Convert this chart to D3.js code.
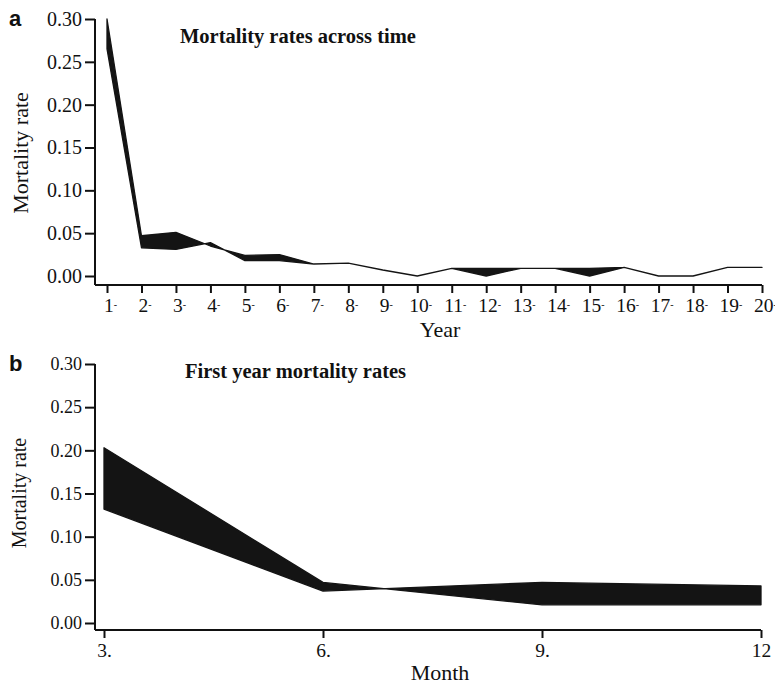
<!DOCTYPE html>
<html>
<head>
<meta charset="utf-8">
<script src="https://cdn.jsdelivr.net/npm/d3@7"></script>
<style>
body { margin: 0; background: #fff; }
svg { display: block; }
text { font-family: "Liberation Serif", "Times New Roman", serif; fill: #111; }
.axis path, .axis line { stroke: #111; stroke-width: 2; }
.panel { font-family: "Liberation Sans", Arial, sans-serif; font-weight: bold; }
</style>
</head>
<body>
<script>
// panel a: yearly mortality, two bounds of the ribbon
var years = d3.range(1, 21)
var yearA = [0.265, 0.033, 0.031, 0.039, 0.018, 0.018, 0.014, 0.015, 0.007, 0.000,
             0.009, 0.000, 0.009, 0.009, 0.000, 0.010, 0.000, 0.000, 0.010, 0.010]
var yearB = [0.300, 0.047, 0.051, 0.035, 0.024, 0.025, 0.014, 0.015, 0.007, 0.000,
             0.009, 0.009, 0.009, 0.009, 0.009, 0.010, 0.000, 0.000, 0.010, 0.010]
// panel b: first year, by month
var months = [3, 6, 9, 12]
var monthA = [0.203, 0.047, 0.021, 0.021]
var monthB = [0.132, 0.037, 0.047, 0.043]
var monthLabels = ['3.', '6.', '9.', '12']
var rateTicks = [0, 0.05, 0.10, 0.15, 0.20, 0.25, 0.30]

var svg = d3.select('body').append('svg')
	.attr('width', 775)
	.attr('height', 685)

var fillCol = '#141414'
var serif = '"Liberation Serif", "Times New Roman", serif'

function panel(o){
	var g = svg.append('g')
	var x = d3.scaleLinear().domain(o.xdom).range([o.x0, o.x1])
	var y = d3.scaleLinear().domain([0, 0.3]).range([o.y0, o.y1])

	var area = d3.area()
		.x((d, i) => x(o.xs[i]))
		.y0((d, i) => y(o.lo[i]))
		.y1((d, i) => y(o.hi[i]))
	g.append('path')
		.datum(o.xs)
		.attr('d', area)
		.attr('fill', fillCol)
		.attr('stroke', fillCol)
		.attr('stroke-width', 1.3)
		.attr('stroke-linejoin', 'round')

	// y axis
	var ya = g.append('g').attr('class', 'axis')
		.attr('transform', 'translate(' + o.axX + ',0)')
		.call(d3.axisLeft(y).tickValues(rateTicks).tickFormat(d3.format('.2f')).tickSize(10).tickSizeOuter(0).tickPadding(3))
	ya.attr('font-family', null)
	ya.selectAll('text').style('font-family', serif).style('font-size', o.yfont + 'px')
	ya.select('.domain').attr('d', 'M0,' + o.y1 + 'V' + o.axY)

	// x axis
	var xa = g.append('g').attr('class', 'axis')
		.attr('transform', 'translate(0,' + o.axY + ')')
		.call(d3.axisBottom(x).tickValues(o.xs).tickSize(8).tickSizeOuter(0).tickPadding(5).tickFormat(o.fmt))
	xa.attr('font-family', null)
	xa.selectAll('text').style('font-family', serif).style('font-size', o.xfont + 'px')
	xa.select('.domain').attr('d', 'M' + o.axX + ',0H' + o.x1)
	if (o.dash) {
		xa.selectAll('text').text(d => d).attr('dx', 3)
			.append('tspan').style('font-size', '10px').attr('dy', -4).text('-')
	}

	svg.append('text').attr('class', 'panel')
		.attr('x', 9).attr('y', o.y1 + 7)
		.style('font-size', '22px').text(o.letter)
	svg.append('text')
		.attr('x', o.tx).attr('y', o.ty)
		.style('font-size', '20.5px').style('font-weight', 'bold')
		.text(o.title)
	svg.append('text')
		.attr('transform', 'translate(' + o.ylx + ',' + o.yly + ') rotate(-90)')
		.attr('text-anchor', 'middle')
		.style('font-size', o.ylfont + 'px')
		.text('Mortality rate')
	svg.append('text')
		.attr('x', 440).attr('y', o.xly)
		.attr('text-anchor', 'middle')
		.style('font-size', '22px')
		.text(o.xlabel)
}

panel({
	xs: years, lo: yearA, hi: yearB, xdom: [1, 20],
	x0: 107, x1: 762, y0: 276, y1: 19, axX: 95, axY: 285,
	yfont: 20, xfont: 19.5, dash: true, fmt: d => d,
	letter: 'a', title: 'Mortality rates across time', tx: 180, ty: 43,
	ylx: 28, yly: 153, ylfont: 22, xlabel: 'Year', xly: 337
})

panel({
	xs: months, lo: monthA, hi: monthB, xdom: [3, 12],
	x0: 104, x1: 761, y0: 623, y1: 364, axX: 95, axY: 630,
	yfont: 18, xfont: 19.5, dash: false, fmt: (d, i) => monthLabels[i],
	letter: 'b', title: 'First year mortality rates', tx: 185, ty: 378,
	ylx: 26, yly: 493, ylfont: 20, xlabel: 'Month', xly: 680
})
</script>
</body>
</html>
